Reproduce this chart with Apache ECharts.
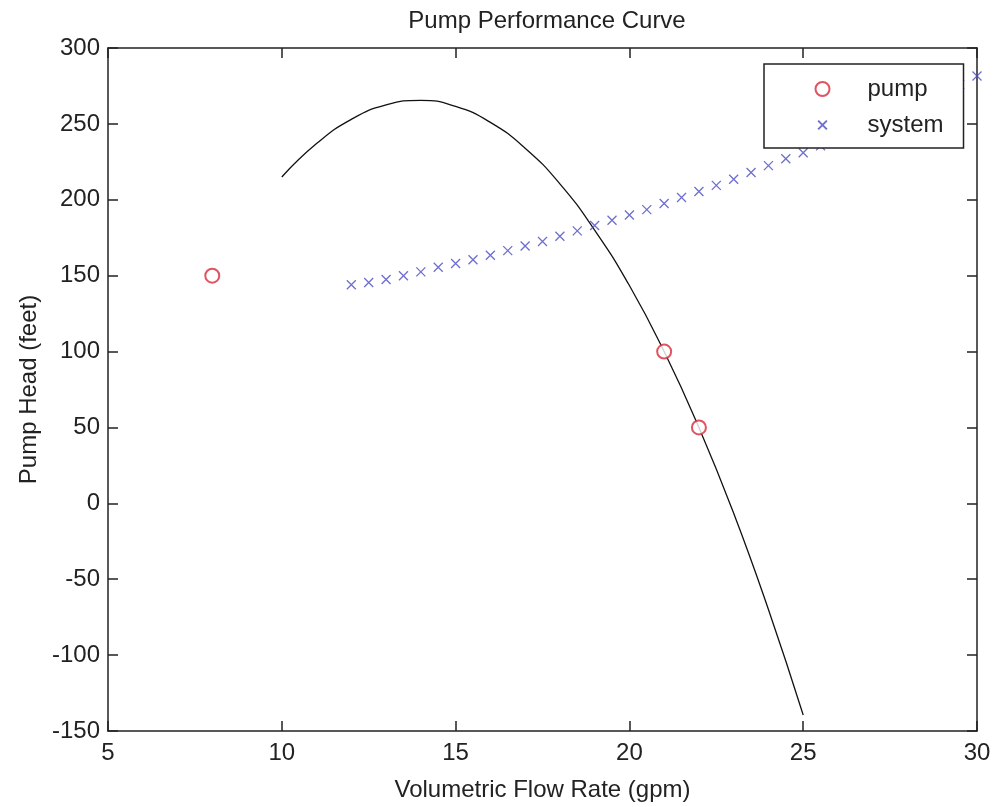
<!DOCTYPE html>
<html>
<head>
<meta charset="utf-8">
<script src="https://cdn.jsdelivr.net/npm/echarts@6/dist/echarts.min.js"></script>
<style>
  html, body { margin: 0; padding: 0; background: #fff; }
  #chart { width: 995px; height: 807px; }
</style>
</head>
<body>
<div id="chart"></div>
<script>
// measured pump points
const pumpX = [8, 21, 22];
const pumpY = [150, 100, 50];

// fitted curve
const curveX = [10, 11, 12, 13, 14, 15, 16, 17, 18, 19, 20, 21, 22, 23, 24, 25];
const curveY = [215, 237, 253, 262.5, 265.5, 261.5, 251, 234, 210.5, 180, 143.5, 100, 50, -6.5, -70, -139.5];

// system curve markers
const systemX = [12, 12.5, 13, 13.5, 14, 14.5, 15, 15.5, 16, 16.5, 17, 17.5, 18, 18.5, 19, 19.5,
  20, 20.5, 21, 21.5, 22, 22.5, 23, 23.5, 24, 24.5, 25, 25.5, 26, 26.5, 27, 27.5, 28, 28.5, 29, 29.5, 30];
const systemY = [144, 145.5, 147.5, 150, 152.5, 155.5, 158, 160.5, 163.5, 166.5, 169.5, 172.5, 176, 179.5,
  183, 186.5, 190, 193.5, 197.5, 201.5, 205.5, 209.5, 213.5, 218, 222.5, 227, 231, 235.5, 240.5, 245,
  250, 255, 260, 265.5, 270.5, 276, 281.5];

const xTicks = [5, 10, 15, 20, 25, 30];
const yTicks = [-150, -100, -50, 0, 50, 100, 150, 200, 250, 300];

const FONT = '"Liberation Sans", Arial, sans-serif';
const AXIS_COLOR = '#222';
const CROSS = 'path://M0,0L10,10M10,0L0,10';
// same cross, padded so the legend icon comes out smaller
const CROSS_LEGEND = 'path://M-3,-3M13,13M0,0L10,10M10,0L0,10';

const zip = (xs, ys) => xs.map((x, i) => [x, ys[i]]);

const chart = echarts.init(document.getElementById('chart'));

const baseX = {
  type: 'value',
  min: xTicks[0],
  max: xTicks[xTicks.length - 1],
  interval: xTicks[1] - xTicks[0],
  splitLine: { show: false },
  axisLine: { show: true, onZero: false, lineStyle: { color: AXIS_COLOR, width: 1.5 } },
  axisTick: { show: true, inside: true, length: 10, lineStyle: { color: AXIS_COLOR, width: 1.5 } },
};
const baseY = {
  type: 'value',
  min: yTicks[0],
  max: yTicks[yTicks.length - 1],
  interval: yTicks[1] - yTicks[0],
  splitLine: { show: false },
  axisLine: { show: true, onZero: false, lineStyle: { color: AXIS_COLOR, width: 1.5 } },
  axisTick: { show: true, inside: true, length: 10, lineStyle: { color: AXIS_COLOR, width: 1.5 } },
};

const option = {
  animation: false,
  backgroundColor: '#fff',
  textStyle: { fontFamily: FONT },
  title: {
    text: 'Pump Performance Curve',
    left: 542,
    textAlign: 'center',
    top: 4,
    textStyle: { fontFamily: FONT, fontSize: 24, fontWeight: 'normal', color: '#222' },
  },
  grid: { left: 108, right: 18, top: 48, bottom: 74 },
  legend: {
    data: ['pump', { name: 'system', icon: CROSS_LEGEND }],
    orient: 'vertical',
    left: 764,
    top: 64,
    padding: [13, 20, 11, 49],
    itemGap: 12,
    itemWidth: 14,
    itemHeight: 14,
    backgroundColor: '#fff',
    borderColor: '#222',
    borderWidth: 1.5,
    borderRadius: 0,
    textStyle: { fontFamily: FONT, fontSize: 24, lineHeight: 24, color: '#222', padding: [0, 0, 0, 33] },
  },
  xAxis: [
    Object.assign({}, baseX, {
      position: 'bottom',
      name: 'Volumetric Flow Rate (gpm)',
      nameLocation: 'middle',
      nameGap: 47,
      nameTextStyle: { fontFamily: FONT, fontSize: 24, color: '#222' },
      axisLabel: { fontFamily: FONT, fontSize: 24, color: '#222', margin: 10 },
    }),
    Object.assign({}, baseX, { position: 'top', axisLabel: { show: false } }),
  ],
  yAxis: [
    Object.assign({}, baseY, {
      position: 'left',
      name: 'Pump Head (feet)',
      nameLocation: 'middle',
      nameGap: 64,
      nameTextStyle: { fontFamily: FONT, fontSize: 24, color: '#222' },
      axisLabel: { fontFamily: FONT, fontSize: 24, color: '#222', margin: 8 },
    }),
    Object.assign({}, baseY, { position: 'right', axisLabel: { show: false } }),
  ],
  series: [
    {
      name: 'fit',
      type: 'line',
      data: zip(curveX, curveY),
      smooth: true,
      showSymbol: false,
      lineStyle: { color: '#111', width: 1.3 },
      z: 2,
    },
    {
      name: 'pump',
      type: 'scatter',
      data: zip(pumpX, pumpY),
      symbol: 'emptyCircle',
      symbolSize: 14,
      itemStyle: { color: '#d8283a', borderColor: '#d8283a', borderWidth: 1.5 },
      z: 3,
    },
    {
      name: 'system',
      type: 'scatter',
      data: zip(systemX, systemY),
      symbol: CROSS,
      symbolSize: 9,
      clip: false,
      itemStyle: { color: 'none', borderColor: '#4a4ac4', borderWidth: 1.3 },
      z: 3,
    },
  ],
};

chart.setOption(option);
</script>
</body>
</html>
